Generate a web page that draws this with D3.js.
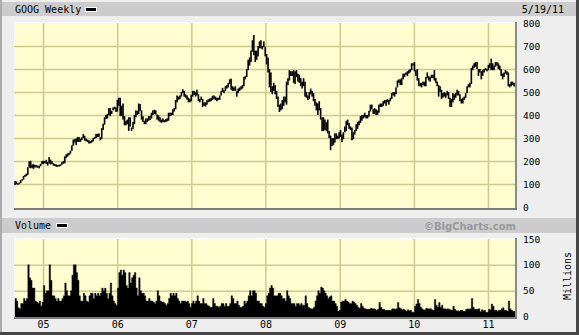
<!DOCTYPE html>
<html><head><meta charset="utf-8">
<script src="https://cdnjs.cloudflare.com/ajax/libs/d3/7.8.5/d3.min.js"></script>
<style>
html,body{margin:0;padding:0;background:#eeeeee;}
svg{display:block;}
text{font-family:"DejaVu Sans Mono",monospace;}
</style></head>
<body><svg id="c" width="579" height="335"></svg>
<script>
// ---- DATA (weekly, GOOG, Aug 2004 - May 2011) ----
const firstWeek = "2004-08-16"; // Monday of first weekly bar
const highs = [
// 2004
113,111,103,106,117,121,135,140,145,173,199,201,185,187,183,182,180,180,188,200,
// 2005
201,200,205,195, 217,206,199,190, 187,185,182,184, 186,195,200,220,229, 233,236,245,268, 293,295,298,305,
304,297,303,317,310, 298,293,290,286, 291,300,305,318,318, 320,303,343,362, 390,400,405,430, 430,418,433,436,433,
// 2006
466,475,475,440, 450,395,375,380, 390,390,345,370,400, 420,418,450,448, 420,395,375,385, 385,395,395,410,420,
423,420,402,398, 390,380,385,378, 383,385,410,410,410, 425,430,465,485, 480,485,500,512, 505,490,485,475,470,
// 2007
488,505,505,500, 510,490,470,480, 470,455,455,465,468, 472,475,484,485, 480,475,475,485, 505,518,508,525,530,
540,555,558,525, 520,525,505,515,520, 525,530,565,570, 600,640,650,680, 725,748,680,680,700, 720,725,700,720,
// 2008
697,665,650,600, 585,525,540,530,505, 480,445,450,465, 480,480,545,560, 595,590,590,595,590, 595,580,575,560,
545,560,545,500, 485,500,515,505,495, 470,455,450,460, 430,390,390,380,370, 380,330,310,300, 300,320,320,310,
// 2009
325,335,315,325,350, 375,380,365,350, 345,325,335,360, 370,375,395,400, 400,410,400,400,418, 445,445,425,430,
425,420,445,450,450, 460,465,465,470, 465,475,495,500, 500,520,550,555,555, 560,580,580,585, 590,595,600,625,
// 2010
625,630,595,600,560, 540,540,545,545, 565,585,570,565, 575,575,595,560,545, 530,525,510,495, 500,495,505,500,
475,470,495,490,495, 510,505,490,470, 475,480,495,525, 535,540,605,615,625, 630,630,600,600, 590,595,600,605,600,
// 2011
618,625,645,625, 615,630,630,625, 615,600,580,585, 595,590,585,535,545, 545,540,535
];
const lows = [
// 2004
96,99,98,100,104,114,119,131,134,139,171,168,170,165,172,172,171,168,177,186,
// 2005
187,190,188,180, 189,185,187,180, 178,175,175,176, 178,184,188,190,213, 219,225,232,244, 266,280,270,283,
283,283,291,300,288, 286,282,276,277, 280,285,296,300,304, 304,290,297,335, 358,383,385,400, 395,405,420,425,413,
// 2006
415,440,395,395, 380,355,355,360, 331,350,331,340,360, 390,400,405,417, 380,370,360,360, 370,375,378,385,400,
405,402,380,375, 370,365,370,368, 370,372,375,395,398, 400,415,425,455, 465,470,480,495, 480,475,467,455,455,
// 2007
460,480,488,480, 485,460,455,465, 435,440,437,445,455, 458,460,465,470, 465,460,465,466, 485,500,495,505,515,
520,535,510,505, 505,505,480,495,505, 510,515,525,555, 565,595,615,630, 675,660,630,640,655, 690,690,685,695,
// 2008
655,620,585,520, 500,490,505,490,470, 435,413,420,425, 440,455,445,530, 550,570,570,540,535, 565,545,540,525,
515,525,480,475, 465,470,490,480,460, 440,420,400,420, 380,330,330,335,330, 320,300,247,265, 270,280,295,295,
// 2009
298,305,282,295,325, 330,355,340,335, 290,295,315,330, 340,355,365,375, 385,390,385,385,393, 415,425,405,405,
400,400,410,435,435, 440,450,440,455, 445,460,470,485, 480,490,520,540,530, 530,555,565,575, 570,580,585,595,
// 2010
615,590,570,550,525, 525,520,530,525, 525,560,550,545, 560,560,550,540,525, 480,500,470,475, 480,475,485,470,
435,435,455,465,475, 485,485,460,450, 450,465,475,495, 520,520,535,595,605, 610,600,570,585, 555,570,585,595,590,
// 2011
595,605,595,595, 595,610,615,600, 595,570,555,565, 580,575,525,520,525, 530,525,520
];
const volumes = [ // millions of shares per week
// 2004
35,30,17,15,25,25,35,30,35,100,75,70,55,55,30,28,25,30,20,28,
// 2005
60,45,50,50, 100,70,40,40, 35,30,35,30, 30,35,40,65,50, 40,40,50,80, 100,100,85,70,
40,30,30,45,40, 30,28,40,45, 45,35,45,40,45, 40,45,55,50, 55,45,35,45, 65,40,30,25,22,
// 2006
55,85,90,80, 90,85,60,55, 85,65,75,80,85, 55,40,75,50, 45,45,40,30, 30,35,30,30,28,
25,30,50,40, 30,28,28,25, 22,25,35,45,40, 45,40,45,35, 30,25,30,30, 30,28,30,25,18,
// 2007
25,30,25,30, 40,30,25,25, 35,25,25,22,20, 18,18,35,25, 20,20,18,20, 25,25,20,25,20,
20,25,40,35, 25,25,30,22,18, 18,20,30,25, 30,40,50,40, 50,50,45,30,30, 25,25,20,18,
// 2008
25,40,45,55, 60,55,40,40,40, 45,45,40,35, 35,30,50,40, 35,25,25,25,20, 25,25,22,25,
22,22,40,25, 18,16,15,15,18, 30,40,50,45, 57,55,50,45,40, 35,38,40,30, 30,25,20,10,
// 2009
12,28,30,30,33, 30,28,25,25, 30,28,25,22, 18,16,25,20, 16,15,14,14,14, 16,15,15,14,
12,14,27,18,14, 14,12,12,12, 12,12,15,15, 14,15,27,17,15, 13,14,12,10, 13,11,12,8,
// 2010
8,20,24,33,25, 18,15,13,13, 16,15,15,15, 13,12,33,22,18, 27,18,22,15, 15,14,15,14,
13,12,20,14,11, 11,10,12,12, 10,10,14,15, 14,15,35,18,14, 14,14,15,9, 13,11,12,8,8,
// 2011
14,13,24,20, 12,12,10,12, 12,15,17,12, 12,10,30,15,12, 10,10,10
];
const priceTicks = [0,100,200,300,400,500,600,700,800];
const volumeTicks = [0,50,100,150];
const yearTicks = ["2005","2006","2007","2008","2009","2010","2011"];
const title = "GOOG Weekly";
const dateLabel = "5/19/11";

// ---- LAYOUT ----
const svg = d3.select("#c");
const W = 579, H = 335;
const plotL = 14, plotR = 515;
const pTop = 22, pBot = 208;
const vTop = 238, vBot = 317;

const parse = d3.timeParse("%Y-%m-%d");
const start = parse(firstWeek);
const weeks = highs.map((_, i) => d3.timeDay.offset(start, 7 * i));
const years = yearTicks.map(y => parse(y + "-01-01"));

const x = d3.scaleTime().domain([parse("2004-08-11"), parse("2011-05-14")]).range([plotL, plotR]);
const y = d3.scaleLinear().domain([0, 800]).range([207, 23]);
const yv = d3.scaleLinear().domain([0, 150]).range([316.5, 239]);

// frame
svg.append("rect").attr("width", W).attr("height", H).attr("fill", "#eeeeee");
svg.append("rect").attr("x", 0).attr("y", 0).attr("width", 2).attr("height", H).attr("fill", "#ababab");
svg.append("rect").attr("x", 576).attr("y", 0).attr("width", 3).attr("height", H).attr("fill", "#474747");
svg.append("rect").attr("x", 0).attr("y", 332).attr("width", W).attr("height", 3).attr("fill", "#474747");

// header bars
svg.append("rect").attr("x", 2).attr("y", 2).attr("width", 574).attr("height", 14).attr("fill", "#cccccc");
svg.append("rect").attr("x", 2).attr("y", 218).attr("width", 574).attr("height", 15).attr("fill", "#cccccc");

svg.append("text").attr("x", 15).attr("y", 13).attr("font-size", "10px").attr("fill", "#000").text(title);
svg.append("rect").attr("x", 85.5).attr("y", 7.5).attr("width", 11).attr("height", 4).attr("fill", "#000").attr("stroke", "#fff").attr("stroke-width", 1);
svg.append("text").attr("x", 564).attr("y", 13).attr("font-size", "10px").attr("text-anchor", "end").text(dateLabel);

svg.append("text").attr("x", 15).attr("y", 229).attr("font-size", "10px").text("Volume");
svg.append("rect").attr("x", 56.5).attr("y", 223.5).attr("width", 11).attr("height", 4).attr("fill", "#000").attr("stroke", "#fff").attr("stroke-width", 1);
svg.append("text").attr("x", 516).attr("y", 230).attr("font-size", "10px").attr("font-weight", "bold")
  .attr("text-anchor", "end").attr("fill", "#999999").style("font-family", "'DejaVu Sans',sans-serif").text("©BigCharts.com");

// plot panels
function panel(top, bot) {
  svg.append("rect").attr("x", plotL).attr("y", top).attr("width", plotR - plotL).attr("height", bot - top).attr("fill", "#fdfdd0");
  svg.append("rect").attr("x", plotL).attr("y", top).attr("width", plotR - plotL).attr("height", 1).attr("fill", "#ffffff");
  svg.append("rect").attr("x", plotL).attr("y", top).attr("width", 1).attr("height", bot - top).attr("fill", "#ffffff");
}
panel(pTop, pBot);
panel(vTop, vBot);

const gridColor = "#cccc90";
// price grid
const pg = svg.append("g").attr("transform", `translate(${plotL},0)`)
  .call(d3.axisRight(y).tickValues(priceTicks.filter(v => v > 0 && v < 800)).tickSize(plotR - plotL).tickFormat(""));
pg.select(".domain").remove();
pg.selectAll("line").attr("stroke", gridColor).attr("stroke-width", 1.5);
const pgx = svg.append("g").attr("transform", `translate(0,${pBot})`)
  .call(d3.axisTop(x).tickValues(years).tickSize(pBot - pTop - 1).tickFormat(""));
pgx.select(".domain").remove();
pgx.selectAll("line").attr("stroke", gridColor).attr("stroke-width", 1.5);

// volume grid
const vg = svg.append("g").attr("transform", `translate(${plotL},0)`)
  .call(d3.axisRight(yv).tickValues(volumeTicks.filter(v => v > 0 && v < 150)).tickSize(plotR - plotL).tickFormat(""));
vg.select(".domain").remove();
vg.selectAll("line").attr("stroke", gridColor).attr("stroke-width", 1.5);
const vgx = svg.append("g").attr("transform", `translate(0,${vBot})`)
  .call(d3.axisTop(x).tickValues(years).tickSize(vBot - vTop - 1).tickFormat(""));
vgx.select(".domain").remove();
vgx.selectAll("line").attr("stroke", gridColor).attr("stroke-width", 1.5);

// clip paths
svg.append("clipPath").attr("id", "cp").append("rect").attr("x", plotL).attr("y", pTop).attr("width", plotR - plotL).attr("height", pBot - pTop);
svg.append("clipPath").attr("id", "cv").append("rect").attr("x", plotL).attr("y", vTop).attr("width", plotR - plotL).attr("height", vBot - vTop);

// price bars (weekly high-low)
svg.append("g").attr("clip-path", "url(#cp)").selectAll("rect").data(weeks).join("rect")
  .attr("x", (d) => x(d) - 0.8)
  .attr("width", 1.6)
  .attr("y", (d, i) => y(highs[i]))
  .attr("height", (d, i) => Math.max(1.5, y(lows[i]) - y(highs[i])))
  .attr("fill", "#000");

// volume histogram as a continuous stepped area
const step = x(weeks[1]) - x(weeks[0]);
const volPts = weeks.map((d, i) => ({ d, v: volumes[i] }));
volPts.push({ d: d3.timeDay.offset(weeks[weeks.length - 1], 7), v: volumes[volumes.length - 1] });
const area = d3.area().curve(d3.curveStepAfter)
  .x(p => x(p.d)).y0(vBot).y1(p => yv(p.v));
svg.append("g").attr("clip-path", "url(#cv)").append("path")
  .datum(volPts).attr("d", area).attr("fill", "#000").attr("stroke", "#000").attr("stroke-width", 0.4);

// panel shadows
function shadow(top, bot) {
  svg.append("rect").attr("x", plotR).attr("y", top).attr("width", 2).attr("height", bot - top + 2).attr("fill", "#8a8a8a");
  svg.append("rect").attr("x", plotL).attr("y", bot).attr("width", plotR - plotL + 2).attr("height", 2).attr("fill", "#7a7a7a");
}
shadow(pTop, pBot);
shadow(vTop, vBot);

// axes labels
const pa = svg.append("g").attr("transform", "translate(521,0)")
  .call(d3.axisRight(y).tickValues(priceTicks).tickSize(0).tickPadding(2));
pa.select(".domain").remove();
pa.selectAll("text").attr("font-size", "9.5px").style("font-family", "'DejaVu Sans Mono',monospace").attr("fill", "#000");

const va = svg.append("g").attr("transform", "translate(521,0)")
  .call(d3.axisRight(yv).tickValues(volumeTicks).tickSize(0).tickPadding(2));
va.select(".domain").remove();
va.selectAll("text").attr("font-size", "9.5px").style("font-family", "'DejaVu Sans Mono',monospace").attr("fill", "#000");

const xa = svg.append("g").attr("transform", `translate(0,319)`)
  .call(d3.axisBottom(x).tickValues(years).tickSize(0).tickPadding(2).tickFormat(d3.timeFormat("%y")));
xa.select(".domain").remove();
xa.selectAll("text").attr("font-size", "10px").style("font-family", "'DejaVu Sans Mono',monospace").attr("fill", "#000");

svg.append("text").attr("transform", "translate(571,276) rotate(-90)").attr("text-anchor", "middle")
  .attr("font-size", "10px").text("Millions");
</script>
</body></html>
